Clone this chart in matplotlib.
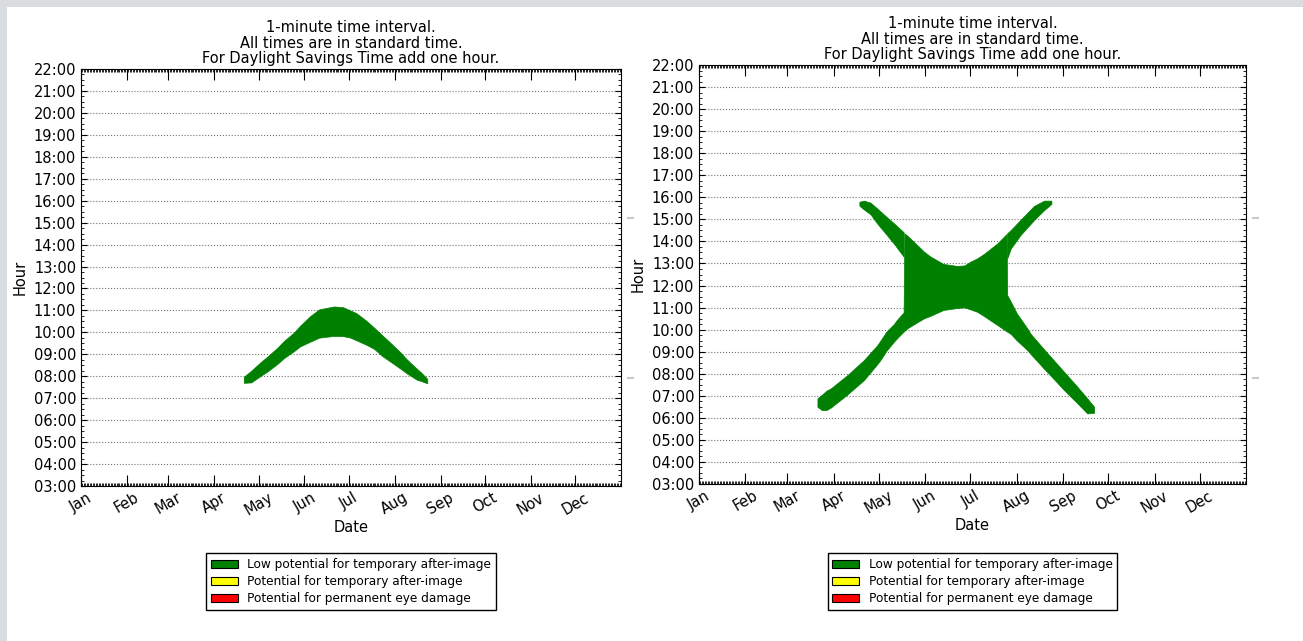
import numpy as np
import matplotlib
matplotlib.use('Agg')
import matplotlib.pyplot as plt
import matplotlib.dates as mdates
from matplotlib.patches import Rectangle
from matplotlib.lines import Line2D
from matplotlib.ticker import MultipleLocator, FuncFormatter

# days counted from Jan 1, glare window in standard-time hours
left_days = [110, 115, 121, 126, 133, 137, 144, 148, 155, 161, 171, 177,
             182, 186, 193, 198, 204, 209, 216, 220, 227, 230, 234]
left_start = [7.70, 7.72, 8.00, 8.22, 8.58, 8.82, 9.15, 9.36, 9.58, 9.76, 9.84, 9.83,
              9.76, 9.64, 9.43, 9.25, 8.90, 8.67, 8.34, 8.14, 7.84, 7.78, 7.68]
left_end = [7.98, 8.25, 8.62, 8.90, 9.32, 9.60, 10.00, 10.30, 10.75, 11.05, 11.18, 11.15,
            11.00, 10.88, 10.52, 10.22, 9.84, 9.53, 9.08, 8.78, 8.34, 8.16, 7.88]

# right receptor: lower arms plus the merged centre
right_days = [79, 82, 85, 88, 99, 110, 119, 121, 125, 130, 132, 136.5,
              137, 139, 145.5, 150, 154.5, 163, 172, 177, 181, 185.5, 190, 199, 205.2,
              205.6, 208, 212, 219, 221, 230, 234.6, 243.5, 252.4, 259, 263.6]
right_start = [6.50, 6.35, 6.35, 6.47, 7.06, 7.71, 8.44, 8.62, 9.04, 9.45, 9.60, 9.91,
               9.94, 10.06, 10.33, 10.51, 10.63, 10.89, 10.98, 11.01, 10.92, 10.81, 10.62, 10.21, 9.92,
               9.91, 9.80, 9.51, 9.07, 8.91, 8.24, 7.91, 7.26, 6.66, 6.20, 6.23]
right_end = [6.88, 7.05, 7.23, 7.34, 7.94, 8.62, 9.30, 9.50, 9.91, 10.25, 10.44, 10.78,
             14.37, 14.26, 13.84, 13.54, 13.31, 12.98, 12.89, 12.91, 13.08, 13.23, 13.43, 13.91, 14.34,
             11.57, 11.27, 10.74, 10.06, 9.83, 9.12, 8.77, 8.09, 7.41, 6.88, 6.50]

# right receptor: upper arms
upper_left_days = [107, 110, 114.4, 118.8, 123.2, 129.9, 136.5]
upper_left_start = [15.62, 15.45, 15.23, 14.82, 14.46, 13.91, 13.31]
upper_left_end = [15.80, 15.85, 15.76, 15.50, 15.23, 14.83, 14.42]
upper_right_days = [205.6, 208, 214.6, 223.5, 230.2, 235.1]
upper_right_start = [13.23, 13.68, 14.30, 14.97, 15.42, 15.70]
upper_right_end = [14.37, 14.52, 14.99, 15.61, 15.85, 15.85]

legend_labels = ['Low potential for temporary after-image',
                 'Potential for temporary after-image',
                 'Potential for permanent eye damage']
legend_colors = ['green', 'yellow', 'red']

title_text = ('1-minute time interval.\nAll times are in standard time.\n'
              'For Daylight Savings Time add one hour.')

W, H = 1303, 641
x0 = mdates.date2num(np.datetime64('2015-01-01'))


def to_x(days):
    return x0 + np.array(days, dtype=float)


def style_axes(ax, legend_y):
    ax.set_xlim(x0, x0 + 364.9)
    ax.set_ylim(3, 22)
    ax.yaxis.set_major_locator(MultipleLocator(1))
    ax.yaxis.set_minor_locator(MultipleLocator(0.25))
    ax.yaxis.set_major_formatter(FuncFormatter(lambda v, p: '%02d:00' % int(round(v))))
    ax.xaxis.set_major_locator(mdates.MonthLocator())
    ax.xaxis.set_major_formatter(mdates.DateFormatter('%b'))
    ax.xaxis.set_minor_locator(mdates.DayLocator())
    ax.tick_params(axis='both', which='both', direction='in', top=True, right=True)
    ax.tick_params(axis='x', which='major', length=8, labelsize=10.5, pad=3, labelrotation=30)
    ax.tick_params(axis='x', which='minor', length=2)
    ax.tick_params(axis='y', which='major', length=4, labelsize=10.5)
    ax.tick_params(axis='y', which='minor', length=2)
    ax.grid(True, axis='y', which='major', ls=':', color='0.45', lw=0.8)
    ax.set_xlabel('Date', fontsize=10.5, labelpad=1)
    ax.set_ylabel('Hour', fontsize=10.5)
    ax.set_title(title_text, fontsize=10.5, linespacing=1.05, pad=4)
    handles = [Rectangle((0, 0), 1, 1, fc=c, ec='black', lw=0.8) for c in legend_colors]
    leg = ax.legend(handles, legend_labels, loc='upper center', bbox_to_anchor=(0.5, legend_y),
                    fontsize=8.7, fancybox=False, edgecolor='black', framealpha=1,
                    borderaxespad=0, handlelength=2.2, handleheight=0.7,
                    labelspacing=0.35, borderpad=0.4, handletextpad=0.8)
    leg.get_frame().set_linewidth(1.0)


fig = plt.figure(figsize=(W / 100, H / 100), dpi=100)
fig.add_artist(Rectangle((0, 1 - 7 / H), 1, 7 / H, transform=fig.transFigure,
                         fc='#d9dde0', ec='none', zorder=0))
fig.add_artist(Rectangle((0, 0), 7 / W, 1, transform=fig.transFigure,
                         fc='#d9dde0', ec='none', zorder=0))
# small grey marks beside each panel, as in the source page
for mx in (628, 1253):
    for my in (218, 378):
        fig.add_artist(Line2D([mx / W, (mx + 5) / W], [1 - my / H, 1 - my / H],
                              transform=fig.transFigure, color='#c8c8c8', lw=1.5))

ax1 = fig.add_axes([81 / W, 1 - 486 / H, 540 / W, 417 / H])
ax1.fill_between(to_x(left_days), left_start, left_end, color='green', lw=0.5, zorder=2)
style_axes(ax1, -0.161)

ax2 = fig.add_axes([699 / W, 1 - 484 / H, 547 / W, 419 / H])
ax2.fill_between(to_x(right_days), right_start, right_end, color='green', lw=0.5, zorder=2)
ax2.fill_between(to_x(upper_left_days), upper_left_start, upper_left_end,
                 color='green', lw=0.5, zorder=2)
ax2.fill_between(to_x(upper_right_days), upper_right_start, upper_right_end,
                 color='green', lw=0.5, zorder=2)
style_axes(ax2, -0.165)

fig.savefig('out.png', dpi=100)
